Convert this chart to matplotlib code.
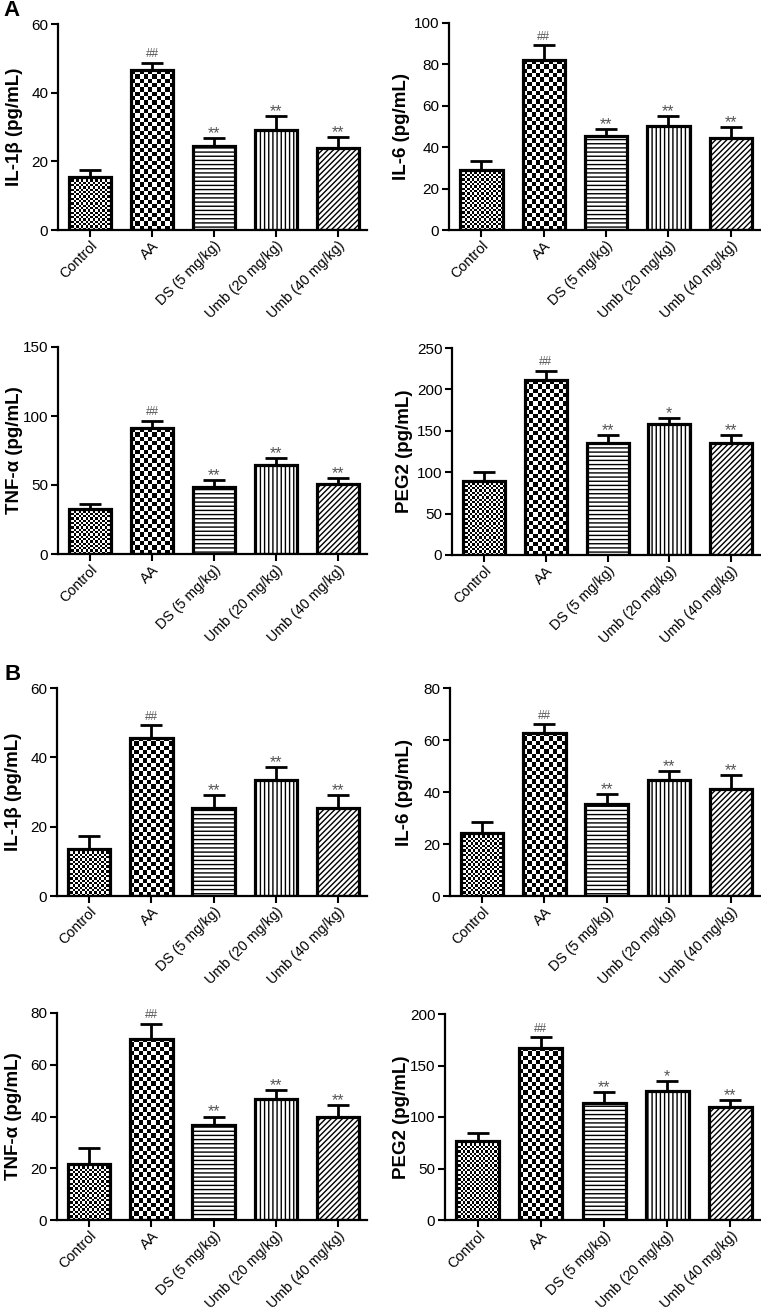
import matplotlib
matplotlib.use('Agg')
import matplotlib.pyplot as plt
import numpy as np

plt.rcParams['font.family'] = ['Liberation Sans', 'DejaVu Sans']
plt.rcParams['hatch.linewidth'] = 1.0

groups = ['Control', 'AA', 'DS (5 mg/kg)', 'Umb (20 mg/kg)', 'Umb (40 mg/kg)']

# Panel A
a_il1b = [15.4, 46.5, 24.6, 29.0, 24.0]
a_il1b_err = [2.2, 2.2, 2.1, 4.3, 3.0]
a_il6 = [29.0, 82.0, 45.6, 50.4, 44.6]
a_il6_err = [4.5, 7.2, 3.3, 4.8, 5.0]
a_tnf = [32.7, 91.3, 48.4, 64.8, 50.8]
a_tnf_err = [3.2, 5.3, 5.3, 5.0, 4.3]
a_peg2 = [89.8, 210.8, 135.8, 158.8, 135.0]
a_peg2_err = [11.0, 12.0, 9.4, 6.8, 10.0]

# Panel B
b_il1b = [13.5, 45.6, 25.4, 33.6, 25.4]
b_il1b_err = [3.7, 3.6, 3.6, 3.5, 3.6]
b_il6 = [24.2, 62.7, 35.2, 44.8, 41.2]
b_il6_err = [4.2, 3.4, 4.0, 3.4, 5.4]
b_tnf = [21.5, 70.0, 36.8, 46.7, 40.0]
b_tnf_err = [6.5, 5.9, 3.2, 3.5, 4.4]
b_peg2 = [76.5, 167.3, 113.2, 125.2, 109.8]
b_peg2_err = [7.8, 10.3, 11.0, 9.4, 6.5]

marks = ['', '##', '**', '**', '**']
marks_peg2 = ['', '##', '**', '*', '**']

W, H = 761, 1309
fig = plt.figure(figsize=(W / 100, H / 100), dpi=100)

# (values, errors, marks, ylabel, ymax, step, pixel box x0, x1, ytop, ybottom, label gap)
panels = [
    (a_il1b, a_il1b_err, marks, 'IL-1β (pg/mL)', 60, 20, 58, 367, 24, 230, 35),
    (a_il6, a_il6_err, marks, 'IL-6 (pg/mL)', 100, 20, 449, 760, 23, 230, 39),
    (a_tnf, a_tnf_err, marks, 'TNF-α (pg/mL)', 150, 50, 58, 367, 347, 554, 35),
    (a_peg2, a_peg2_err, marks_peg2, 'PEG2 (pg/mL)', 250, 50, 452, 760, 348, 555, 39),
    (b_il1b, b_il1b_err, marks, 'IL-1β (pg/mL)', 60, 20, 57, 367, 688, 896, 35),
    (b_il6, b_il6_err, marks, 'IL-6 (pg/mL)', 80, 20, 450, 760, 688, 896, 37),
    (b_tnf, b_tnf_err, marks, 'TNF-α (pg/mL)', 80, 20, 57, 367, 1013, 1220, 35),
    (b_peg2, b_peg2_err, marks_peg2, 'PEG2 (pg/mL)', 200, 50, 445, 760, 1014, 1220, 35),
]

hatches = [None, None, '----', '||||', '//////']
checker_cell = {0: 2.3, 1: 4.3}
bw = 0.68
xlim = (-0.52, 4.47)

for vals, errs, mk, ylabel, ymax, step, x0, x1, yt, yb, gap in panels:
    ax = fig.add_axes([x0 / W, 1 - yb / H, (x1 - x0) / W, (yb - yt) / H])
    x = np.arange(len(groups))
    ax.set_xlim(*xlim)
    ax.set_ylim(0, ymax)
    px_per_x = (x1 - x0) / (xlim[1] - xlim[0])
    px_per_y = (yb - yt) / ymax

    for i, v in enumerate(vals):
        if i in checker_cell:
            bar = ax.bar(x[i], v, bw, color='white', edgecolor='none', zorder=1)[0]
            cell = checker_cell[i]
            nx = max(1, int(round(bw * px_per_x / cell)))
            ny = max(1, int(round(v * px_per_y / cell)))
            img = np.indices((ny, nx)).sum(axis=0) % 2
            im = ax.imshow(img, cmap='gray', vmin=0, vmax=1, origin='lower',
                           extent=(x[i] - bw / 2, x[i] + bw / 2, 0, v),
                           interpolation='nearest', aspect='auto', zorder=1.5)
            im.set_clip_path(bar)
        else:
            ax.bar(x[i], v, bw, color='white', edgecolor='black', linewidth=0,
                   hatch=hatches[i], zorder=1)
    ax.bar(x, vals, bw, fill=False, edgecolor='black', linewidth=2.3, zorder=3)
    ax.errorbar(x, vals, yerr=[np.zeros(len(vals)), errs], fmt='none',
                ecolor='black', elinewidth=2, capsize=8, capthick=2, zorder=2.5)
    for i, (v, e) in enumerate(zip(vals, errs)):
        if mk[i].startswith('#'):
            ax.annotate(mk[i], (x[i], v + e), xytext=(0, 4), textcoords='offset points',
                        ha='center', va='baseline', fontsize=8.5, color='#555555')
        elif mk[i]:
            ax.annotate(mk[i], (x[i], v + e), xytext=(0, 0), textcoords='offset points',
                        ha='center', va='baseline', fontsize=11.5, color='#555555')

    ax.set_xlim(*xlim)
    ax.set_ylim(0, ymax)
    ax.set_yticks(np.arange(0, ymax + 1, step))
    ax.set_xticks(x)
    ax.set_xticklabels(groups, rotation=45, ha='right', rotation_mode='anchor')
    ax.tick_params(axis='y', labelsize=11, width=1.5, length=5, direction='out', pad=2)
    ax.tick_params(axis='x', labelsize=10.3, width=1.5, length=5, direction='out', pad=1)
    for s in ['top', 'right']:
        ax.spines[s].set_visible(False)
    for s in ['left', 'bottom']:
        ax.spines[s].set_linewidth(1.6)
    ax.set_ylabel(ylabel, fontsize=13.5, fontweight='bold')
    ax.yaxis.set_label_coords(-gap / (x1 - x0), 0.5)

fig.text(3 / W, 1 - 11 / H, 'A', fontsize=16, fontweight='bold', va='center', ha='left')
fig.text(4 / W, 1 - 674 / H, 'B', fontsize=16, fontweight='bold', va='center', ha='left')

fig.savefig('out.png', dpi=100)
